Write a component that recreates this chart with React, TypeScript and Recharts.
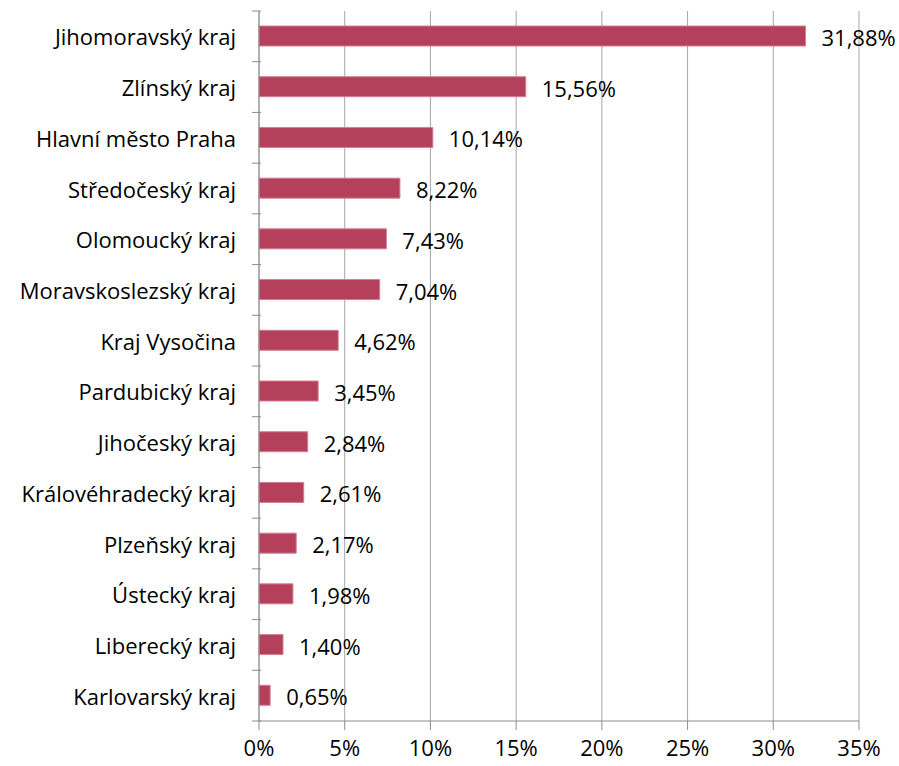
import React from 'react';
import { BarChart, Bar, XAxis, YAxis, CartesianGrid, LabelList } from 'recharts';

const regions = [
  'Jihomoravský kraj',
  'Zlínský kraj',
  'Hlavní město Praha',
  'Středočeský kraj',
  'Olomoucký kraj',
  'Moravskoslezský kraj',
  'Kraj Vysočina',
  'Pardubický kraj',
  'Jihočeský kraj',
  'Královéhradecký kraj',
  'Plzeňský kraj',
  'Ústecký kraj',
  'Liberecký kraj',
  'Karlovarský kraj',
];
const shares = [31.88, 15.56, 10.14, 8.22, 7.43, 7.04, 4.62, 3.45, 2.84, 2.61, 2.17, 1.98, 1.4, 0.65];
const xTicks = [0, 5, 10, 15, 20, 25, 30, 35];

const data = regions.map((region, i) => ({ region, share: shares[i] }));

const font = '"Open Sans", "Noto Sans", sans-serif';
const axisGray = '#8c8c8c';

// plot height / category count, used for the boundary tick marks
const band = 710 / regions.length;

const CategoryTick = (props: any) => {
  const { x, y, payload, index } = props;
  return (
    <g>
      <line x1={x + 1} x2={x + 10} y1={y - band / 2} y2={y - band / 2} stroke={axisGray} />
      {index === regions.length - 1 && (
        <line x1={x + 1} x2={x + 10} y1={y + band / 2} y2={y + band / 2} stroke={axisGray} />
      )}
      <text x={x - 15} y={y} dy={9} textAnchor="end" fill="#000" fontSize={22} fontFamily={font}>
        {payload.value}
      </text>
    </g>
  );
};

const ValueLabel = (props: any) => {
  const { x, y, width, height, value } = props;
  return (
    <text x={x + width + 16} y={y + height / 2} dy={10} fill="#000" fontSize={22} fontFamily={font}>
      {`${Number(value).toFixed(2).replace('.', ',')}%`}
    </text>
  );
};

export default function App() {
  return (
    <div style={{ position: 'absolute', left: 0, top: 0, background: '#fff' }}>
      <BarChart
        width={899}
        height={766}
        data={data}
        layout="vertical"
        margin={{ top: 11, right: 40, bottom: 0, left: 0 }}
      >
        <CartesianGrid horizontal={false} stroke="#a6a6a6" />
        <XAxis
          type="number"
          domain={[0, 35]}
          ticks={xTicks}
          tickFormatter={(v: number) => `${v}%`}
          height={45}
          axisLine={{ stroke: axisGray }}
          tickLine={{ stroke: axisGray }}
          tickSize={9}
          tickMargin={10}
          tick={{ fill: '#000', fontSize: 22, fontFamily: font }}
          interval={0}
        />
        <YAxis
          type="category"
          dataKey="region"
          width={259}
          axisLine={{ stroke: axisGray }}
          tickLine={false}
          tick={<CategoryTick />}
          interval={0}
        />
        <Bar dataKey="share" fill="#b4405b" stroke="#d47f93" strokeWidth={1} barSize={20} isAnimationActive={false}>
          <LabelList dataKey="share" content={<ValueLabel />} />
        </Bar>
      </BarChart>
    </div>
  );
}
